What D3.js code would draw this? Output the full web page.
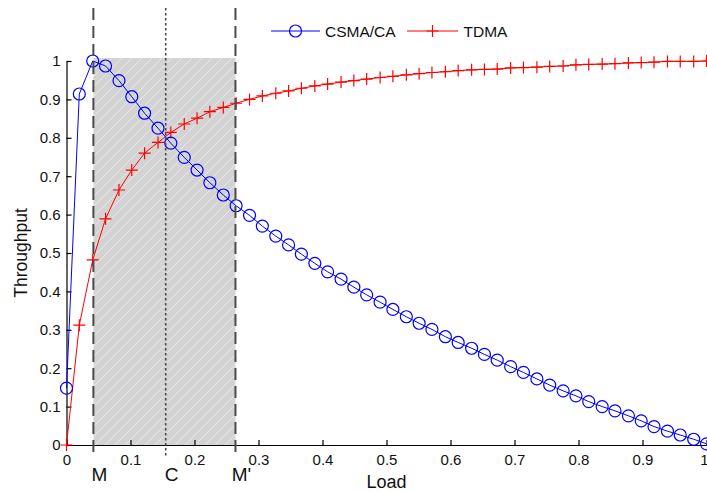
<!DOCTYPE html>
<html>
<head>
<meta charset="utf-8">
<script src="https://cdn.jsdelivr.net/npm/d3@7"></script>
<style>
  html, body { margin: 0; padding: 0; background: #fff; }
  svg { display: block; font-family: "Liberation Sans", Arial, sans-serif; }
</style>
</head>
<body>
<svg id="chart" width="707" height="492"></svg>
<script>
// ---- data ----
const loads = [0, 0.020, 0.041, 0.061, 0.082, 0.102, 0.122, 0.143, 0.163, 0.184,
  0.204, 0.224, 0.245, 0.265, 0.286, 0.306, 0.327, 0.347, 0.367, 0.388,
  0.408, 0.429, 0.449, 0.469, 0.490, 0.510, 0.531, 0.551, 0.571, 0.592,
  0.612, 0.633, 0.653, 0.673, 0.694, 0.714, 0.735, 0.755, 0.776, 0.796,
  0.816, 0.837, 0.857, 0.878, 0.898, 0.918, 0.939, 0.959, 0.980, 1.0];

const csma = [0.148, 0.914, 1.0, 0.987, 0.949, 0.907, 0.864, 0.825, 0.786, 0.749,
  0.716, 0.683, 0.651, 0.623, 0.598, 0.570, 0.544, 0.521, 0.497, 0.473,
  0.451, 0.432, 0.411, 0.391, 0.372, 0.353, 0.334, 0.317, 0.301, 0.282,
  0.267, 0.252, 0.236, 0.221, 0.204, 0.189, 0.172, 0.156, 0.141, 0.128,
  0.113, 0.100, 0.089, 0.076, 0.063, 0.048, 0.036, 0.026, 0.015, 0.003];

const tdma = [0.0, 0.312, 0.482, 0.589, 0.664, 0.716, 0.760, 0.788, 0.814, 0.836,
  0.851, 0.868, 0.879, 0.890, 0.900, 0.909, 0.916, 0.922, 0.929, 0.935,
  0.940, 0.945, 0.949, 0.953, 0.957, 0.960, 0.964, 0.967, 0.970, 0.972,
  0.975, 0.977, 0.978, 0.979, 0.982, 0.983, 0.984, 0.986, 0.987, 0.990,
  0.991, 0.992, 0.993, 0.995, 0.996, 0.997, 0.999, 0.999, 0.999, 1.0];

const xTicks = [0, 0.1, 0.2, 0.3, 0.4, 0.5, 0.6, 0.7, 0.8, 0.9, 1];
const yTicks = [0, 0.1, 0.2, 0.3, 0.4, 0.5, 0.6, 0.7, 0.8, 0.9, 1];

const markLoads = [0.042, 0.155, 0.264];   // M, C, M'
const markLabels = ["M", "C", "M'"];
const seriesNames = ["CSMA/CA", "TDMA"];

// ---- scales ----
const svg = d3.select("#chart");
const x = d3.scaleLinear().domain([0, 1]).range([66.5, 706.5]);
const y = d3.scaleLinear().domain([0, 1]).range([445, 61]);

const defs = svg.append("defs");
const pat = defs.append("pattern").attr("id", "hatch")
  .attr("patternUnits", "userSpaceOnUse").attr("width", 10).attr("height", 10);
pat.append("rect").attr("width", 10).attr("height", 10).attr("fill", "#d3d3d3");
pat.append("path").attr("d", "M-1,1 L1,-1 M0,10 L10,0 M9,11 L11,9")
  .attr("stroke", "#ffffff").attr("stroke-opacity", 0.45).attr("stroke-width", 1);

// shaded region between M and M'
svg.append("rect")
  .attr("x", x(markLoads[0])).attr("y", y(1) - 3)
  .attr("width", x(markLoads[2]) - x(markLoads[0]))
  .attr("height", y(0) - y(1) + 3)
  .attr("fill", "url(#hatch)");

// axes
const fmt = d => d === 0 ? "0" : d === 1 ? "1" : d3.format(".1f")(d);
const xAxis = svg.append("g").attr("transform", `translate(0,${y(0)})`)
  .call(d3.axisBottom(x).tickValues(xTicks).tickFormat(fmt).tickSizeInner(-5).tickSizeOuter(0).tickPadding(9));
const yAxis = svg.append("g").attr("transform", `translate(${x(0)},0)`)
  .call(d3.axisLeft(y).tickValues(yTicks).tickFormat(fmt).tickSizeInner(-5).tickSizeOuter(0).tickPadding(6));
[xAxis, yAxis].forEach(g => {
  g.select(".domain").attr("stroke", "#000").attr("stroke-width", 1.2);
  g.selectAll(".tick line").attr("stroke", "#000").attr("stroke-width", 1.2);
  g.selectAll(".tick text").attr("fill", "#111").style("font-size", "15px")
    .style("font-family", "Liberation Sans, Arial, sans-serif");
});
// keep the last x label inside the frame
xAxis.selectAll(".tick text").filter(d => d === 1).attr("text-anchor", "end").attr("dx", "0.1em");

// axis labels
svg.append("text").attr("x", x(0.5)).attr("y", 488).attr("text-anchor", "middle")
  .style("font-size", "18px").attr("fill", "#111").text("Load");
svg.append("text").attr("transform", `translate(27,${(y(0) + y(1)) / 2}) rotate(-90)`)
  .attr("text-anchor", "middle").style("font-size", "17.5px").attr("fill", "#111").text("Throughput");

// series
const lineGen = d3.line().x((d, i) => x(loads[i])).y(d => y(d));

svg.append("path").datum(tdma).attr("d", lineGen)
  .attr("fill", "none").attr("stroke", "#ff0000").attr("stroke-width", 1);
svg.append("path").datum(csma).attr("d", lineGen)
  .attr("fill", "none").attr("stroke", "#0000ff").attr("stroke-width", 1);

const plusPath = s => `M${-s},0 H${s} M0,${-s} V${s}`;
svg.append("g").selectAll("path").data(tdma).join("path")
  .attr("transform", (d, i) => `translate(${x(loads[i])},${y(d)})`)
  .attr("d", plusPath(6)).attr("stroke", "#ff0000").attr("stroke-width", 1.2).attr("fill", "none");
svg.append("g").selectAll("circle").data(csma).join("circle")
  .attr("cx", (d, i) => x(loads[i])).attr("cy", d => y(d)).attr("r", 6)
  .attr("fill", "none").attr("stroke", "#0000ff").attr("stroke-width", 1.2);

// vertical marker lines
markLoads.forEach((m, i) => {
  svg.append("line").attr("x1", x(m)).attr("x2", x(m)).attr("y1", 8).attr("y2", y(0) + 13)
    .attr("stroke", "#4a4a4a")
    .attr("stroke-width", i === 1 ? 1.6 : 2)
    .attr("stroke-dasharray", i === 1 ? "2.5,2.5" : "12,6");
  svg.append("text").attr("x", x(m) + 6).attr("y", 481).attr("text-anchor", "middle")
    .style("font-size", "19px").attr("fill", "#111").text(markLabels[i]);
});

// legend
const leg = svg.append("g");
leg.append("line").attr("x1", 271).attr("x2", 320).attr("y1", 31).attr("y2", 31)
  .attr("stroke", "#0000ff").attr("stroke-width", 1);
leg.append("circle").attr("cx", 295.5).attr("cy", 31).attr("r", 6)
  .attr("fill", "none").attr("stroke", "#0000ff").attr("stroke-width", 1.2);
leg.append("text").attr("x", 325).attr("y", 36.5).style("font-size", "15.5px").attr("fill", "#111").text(seriesNames[0]);
leg.append("line").attr("x1", 407).attr("x2", 458).attr("y1", 31).attr("y2", 31)
  .attr("stroke", "#ff0000").attr("stroke-width", 1);
leg.append("path").attr("transform", "translate(432.5,31)").attr("d", plusPath(6))
  .attr("stroke", "#ff0000").attr("stroke-width", 1.2);
leg.append("text").attr("x", 463.5).attr("y", 36.5).style("font-size", "15.5px").attr("fill", "#111").text(seriesNames[1]);
</script>
</body>
</html>
